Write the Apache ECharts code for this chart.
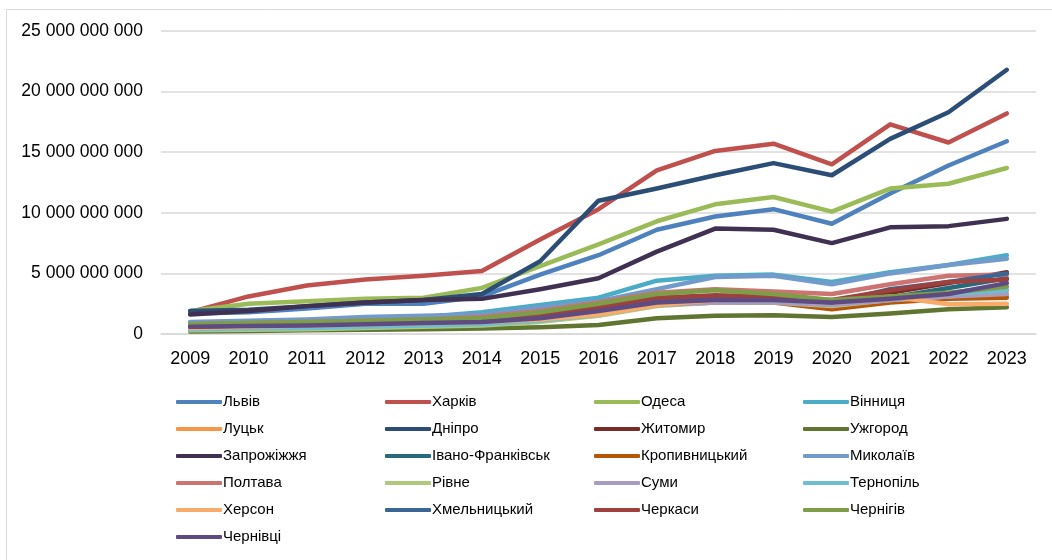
<!DOCTYPE html>
<html lang="uk">
<head>
<meta charset="UTF-8">
<title>Міста</title>
<script src="https://cdn.jsdelivr.net/npm/echarts@6/dist/echarts.min.js"></script>
<style>
  html, body { margin: 0; padding: 0; background: #fff; }
  #chart { width: 1052px; height: 560px; }
</style>
</head>
<body>
<div id="chart"></div>
<script>
// роки
const years = ['2009','2010','2011','2012','2013','2014','2015','2016','2017','2018','2019','2020','2021','2022','2023'];

// значення в млрд (приблизно з малюнка)
const lviv = [1.7,1.8,2.1,2.5,2.5,3.1,4.9,6.5,8.6,9.7,10.3,9.1,11.6,13.9,15.9];
const kharkiv = [1.8,3.1,4.0,4.5,4.8,5.2,7.8,10.3,13.5,15.1,15.7,14.0,17.3,15.8,18.2];
const odesa = [1.9,2.5,2.7,2.9,3.0,3.8,5.6,7.4,9.3,10.7,11.3,10.1,12.0,12.4,13.7];
const vinnytsia = [0.9,1.0,1.1,1.3,1.4,1.8,2.4,3.0,4.4,4.8,4.9,4.3,5.1,5.7,6.5];
const lutsk = [0.5,0.6,0.7,0.8,0.9,1.0,1.3,1.8,2.4,2.7,2.8,2.5,3.0,3.4,3.2];
const dnipro = [1.9,2.0,2.3,2.6,2.8,3.3,6.0,11.0,12.0,13.1,14.1,13.1,16.1,18.3,21.8];
const zhytomyr = [0.6,0.7,0.8,0.9,1.0,1.1,1.4,2.0,2.7,3.0,2.9,2.5,3.4,4.2,5.1];
const uzhhorod = [0.2,0.25,0.3,0.35,0.4,0.45,0.55,0.75,1.3,1.5,1.55,1.4,1.7,2.05,2.2];
const zaporizhzhia = [1.6,1.9,2.3,2.6,2.8,2.9,3.7,4.6,6.8,8.7,8.6,7.5,8.8,8.9,9.5];
const ivanoFrankivsk = [0.5,0.6,0.7,0.8,0.9,1.0,1.3,1.8,2.5,2.7,2.7,2.5,3.0,3.8,4.6];
const kropyvnytskyi = [0.4,0.5,0.6,0.7,0.8,0.9,1.2,1.7,2.4,2.6,2.6,2.05,2.6,2.9,3.0];
const mykolaiv = [1.0,1.1,1.2,1.4,1.5,1.6,2.2,2.7,3.7,4.7,4.8,4.1,5.0,5.7,6.2];
const poltava = [0.8,0.9,1.0,1.1,1.2,1.4,1.9,2.6,3.4,3.7,3.5,3.3,4.1,4.8,4.9];
const rivne = [0.3,0.35,0.4,0.5,0.6,0.7,1.0,1.5,2.3,2.6,2.6,2.3,2.8,3.1,3.6];
const sumy = [0.5,0.55,0.6,0.7,0.8,0.9,1.2,1.6,2.4,2.6,2.6,2.4,2.8,3.1,3.3];
const ternopil = [0.4,0.45,0.5,0.6,0.7,0.8,1.1,1.6,2.6,2.8,2.8,2.6,3.0,3.3,3.6];
const kherson = [0.5,0.6,0.7,0.8,0.9,1.0,1.2,1.6,2.4,2.8,2.9,2.6,3.1,2.45,2.5];
const khmelnytskyi = [0.6,0.7,0.8,0.9,1.0,1.1,1.5,2.1,2.8,3.0,2.9,2.6,3.7,4.3,5.0];
const cherkasy = [0.7,0.8,0.9,1.0,1.1,1.2,1.6,2.2,3.0,3.2,3.1,2.8,3.6,4.3,4.5];
const chernihiv = [0.8,0.9,1.0,1.1,1.2,1.3,1.8,2.5,3.3,3.6,3.3,2.8,3.1,3.4,3.9];
const chernivtsi = [0.6,0.65,0.7,0.8,0.9,1.0,1.3,1.9,2.6,2.8,2.8,2.6,2.9,3.3,4.2];

const cities = [
  ['Львів', lviv, '#4F81BD'],
  ['Харків', kharkiv, '#C0504D'],
  ['Одеса', odesa, '#9BBB59'],
  ['Вінниця', vinnytsia, '#4BACC6'],
  ['Луцьк', lutsk, '#F79646'],
  ['Дніпро', dnipro, '#2C4D75'],
  ['Житомир', zhytomyr, '#772C2A'],
  ['Ужгород', uzhhorod, '#5F7530'],
  ['Запрожіжжя', zaporizhzhia, '#403152'],
  ['Івано-Франківськ', ivanoFrankivsk, '#276A7C'],
  ['Кропивницький', kropyvnytskyi, '#B65708'],
  ['Миколаїв', mykolaiv, '#729ACA'],
  ['Полтава', poltava, '#CD7371'],
  ['Рівне', rivne, '#AFC97A'],
  ['Суми', sumy, '#A99BBD'],
  ['Тернопіль', ternopil, '#6FBDD1'],
  ['Херсон', kherson, '#F9AB6B'],
  ['Хмельницький', khmelnytskyi, '#3A6595'],
  ['Черкаси', cherkasy, '#9E413E'],
  ['Чернігів', chernihiv, '#7E9D48'],
  ['Чернівці', chernivtsi, '#5E4B82']
];

const chart = echarts.init(document.getElementById('chart'));

// легенда у 4 колонки
const colLeft = [176, 385, 594, 803];
const legends = colLeft.map((left, c) => ({
  orient: 'vertical',
  left: left,
  top: 394.5,
  padding: 0,
  itemGap: 12,
  itemWidth: 46,
  itemHeight: 4,
  icon: 'roundRect',
  textStyle: { fontFamily: 'Liberation Sans, sans-serif', fontSize: 15, color: '#000', padding: [0, 0, 0, -4] },
  data: cities.filter((d, i) => i % 4 === c).map(d => d[0])
}));

const option = {
  animation: false,
  grid: { left: 161, right: 16, top: 31, bottom: 226, containLabel: false },
  legend: legends,
  xAxis: {
    type: 'category',
    data: years,
    boundaryGap: true,
    axisLine: { lineStyle: { color: '#d9d9d9', width: 1.5 } },
    axisTick: { show: false },
    axisLabel: { color: '#000', fontSize: 18, fontFamily: 'Liberation Sans, sans-serif', margin: 16 }
  },
  yAxis: {
    type: 'value',
    min: 0,
    max: 25,
    interval: 5,
    axisLine: { show: false },
    axisTick: { show: false },
    splitLine: { lineStyle: { color: '#d9d9d9', width: 1.5 } },
    axisLabel: {
      color: '#000', fontSize: 17.5, fontFamily: 'Liberation Sans, sans-serif', margin: 18,
      formatter: v => v === 0 ? '0' : (v * 1e9).toFixed(0).replace(/\B(?=(\d{3})+(?!\d))/g, ' ')
    }
  },
  graphic: [
    { type: 'line', shape: { x1: 6.5, y1: 9, x2: 6.5, y2: 560 }, style: { stroke: '#d9d9d9', lineWidth: 1 } },
    { type: 'line', shape: { x1: 6, y1: 9.5, x2: 1052, y2: 9.5 }, style: { stroke: '#d9d9d9', lineWidth: 1 } }
  ],
  series: cities.map(d => ({
    name: d[0],
    type: 'line',
    data: d[1],
    color: d[2],
    symbol: 'none',
    lineStyle: { width: 4.5, cap: 'round', join: 'round' }
  }))
};

chart.setOption(option);
</script>
</body>
</html>
